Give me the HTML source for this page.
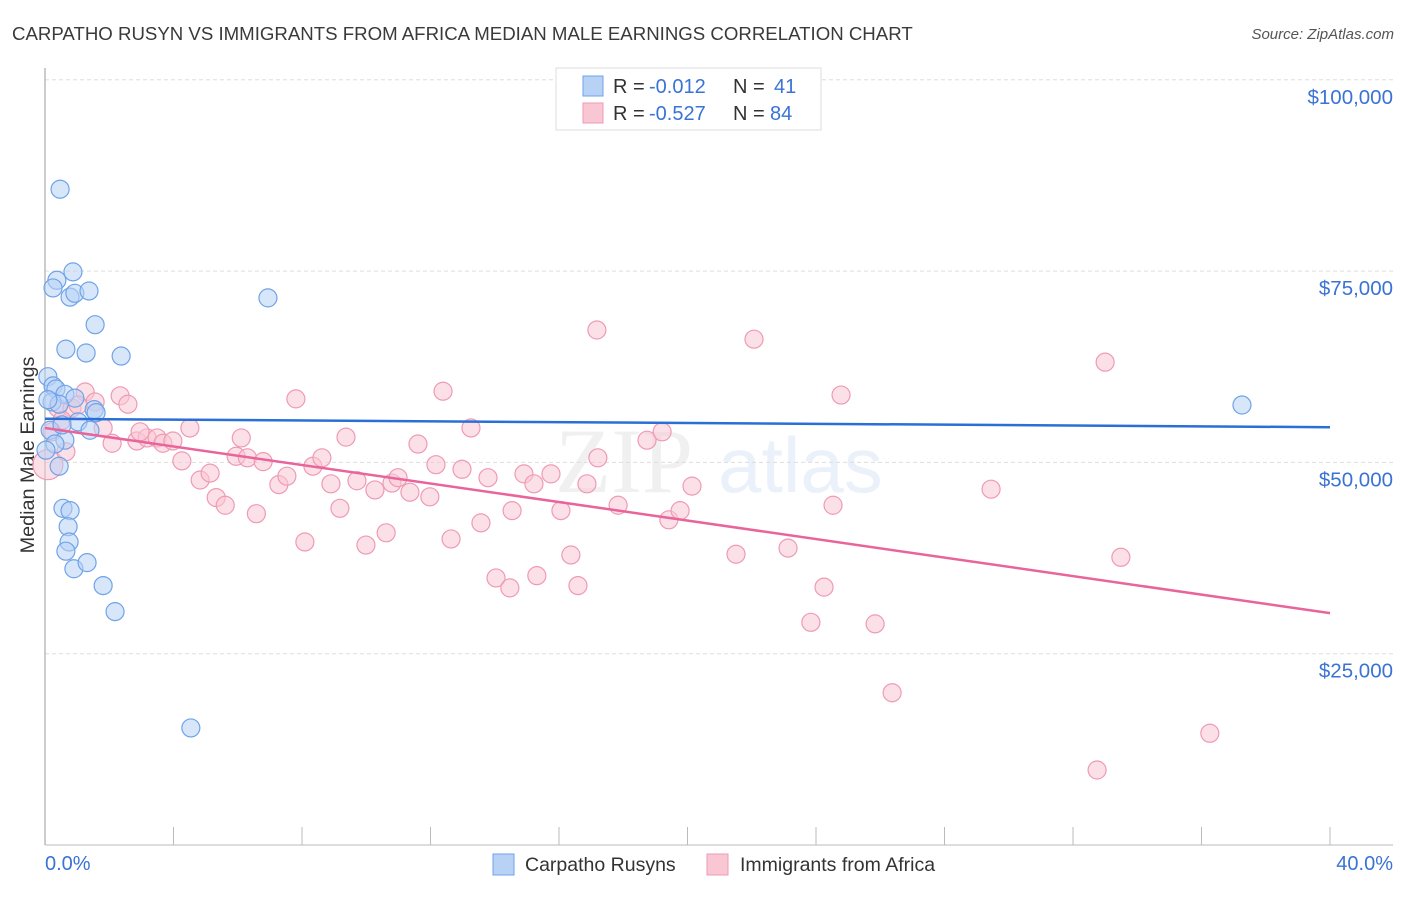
<!DOCTYPE html>
<html><head><meta charset="utf-8"><style>
body{margin:0;background:#fff;font-family:"Liberation Sans",sans-serif;}
</style></head><body>
<svg width="1406" height="892" xmlns="http://www.w3.org/2000/svg" font-family="Liberation Sans, sans-serif">
<text x="12" y="40" font-size="18.65" fill="#3a3a3a">CARPATHO RUSYN VS IMMIGRANTS FROM AFRICA MEDIAN MALE EARNINGS CORRELATION CHART</text>
<text x="1394" y="39" font-size="15" fill="#555" text-anchor="end" font-style="italic">Source: ZipAtlas.com</text>
<g opacity="0.12">
<text x="555" y="492" font-size="92" font-family="Liberation Serif, serif" fill="#888">ZIP</text>
<text x="718" y="492" font-size="78" fill="#5b8fd8">atlas</text>
</g>
<g id="grid"></g>
<line x1="45" y1="68" x2="45" y2="845" stroke="#bbb" stroke-width="1.5"/>
<line x1="45" y1="845" x2="1393" y2="845" stroke="#bbb" stroke-width="1"/>
<g id="xticks"></g>
<text transform="translate(34,455) rotate(-90)" font-size="19.8" fill="#333" text-anchor="middle">Median Male Earnings</text>
<text x="45" y="870" font-size="20" fill="#3a73d6">0.0%</text>
<text x="1393" y="870" font-size="20" fill="#3a73d6" text-anchor="end">40.0%</text>
<g id="pts"></g>
<g id="lines"></g>
<g>
<rect x="556" y="68" width="265" height="62" fill="#fff" stroke="#ddd"/>
<rect x="583" y="76" width="20" height="20" fill="#b8d2f6" stroke="#6fa3e8"/>
<rect x="583" y="103" width="20" height="20" fill="#f9c6d4" stroke="#ef9ab5"/>
<text x="613" y="93" font-size="20" fill="#333">R =</text>
<text x="649" y="93" font-size="20" fill="#3a73d6">-0.012</text>
<text x="733" y="93" font-size="20" fill="#333">N =</text>
<text x="774" y="93" font-size="20" fill="#3a73d6">41</text>
<text x="613" y="120" font-size="20" fill="#333">R =</text>
<text x="649" y="120" font-size="20" fill="#3a73d6">-0.527</text>
<text x="733" y="120" font-size="20" fill="#333">N =</text>
<text x="770" y="120" font-size="20" fill="#3a73d6">84</text>
</g>
<g>
<rect x="493" y="854" width="21" height="21" fill="#b8d2f6" stroke="#6fa3e8"/>
<text x="525" y="871" font-size="19.5" fill="#333">Carpatho Rusyns</text>
</g>
<g>
<rect x="707" y="854" width="21" height="21" fill="#f9c6d4" stroke="#ef9ab5"/>
<text x="740" y="871" font-size="19.5" fill="#333">Immigrants from Africa</text>
</g>
</svg>
<script>
const yTicks=[25000,50000,75000,100000];
const yTickLabels=["$25,000","$50,000","$75,000","$100,000"];
const blueX=[0.47,0.37,0.87,0.25,0.78,0.93,1.37,6.94,1.56,0.65,1.28,2.37,0.09,0.25,0.34,0.62,0.93,0.22,0.44,1.53,1.59,1.03,1.40,0.16,0.62,0.31,0.44,0.56,0.78,0.72,0.75,0.65,0.90,1.31,1.81,2.18,4.54,37.26,0.09,0.03,0.53];
const blueY=[85.7,73.8,74.9,72.8,71.6,72.1,72.4,71.5,68.0,64.8,64.3,63.9,61.2,60.0,59.6,58.9,58.4,57.9,57.6,56.9,56.5,55.3,54.2,54.2,52.9,52.4,49.5,44.0,43.7,41.6,39.6,38.4,36.1,36.9,33.9,30.5,15.3,57.5,58.2,51.6,54.9];
const pinkX=[0.09,0.40,0.84,1.25,1.56,1.81,2.34,2.58,2.09,2.86,3.18,3.49,3.67,3.98,4.26,4.51,4.83,5.14,5.33,5.61,6.11,5.95,6.30,6.58,6.79,7.28,7.53,7.81,8.09,8.34,8.62,8.90,9.18,9.37,9.71,9.99,10.27,10.62,10.80,10.99,11.36,11.61,11.98,12.17,12.39,12.64,12.98,13.26,13.57,13.79,14.04,14.47,14.54,14.91,15.22,15.31,15.75,16.06,16.37,16.59,16.87,17.21,17.18,17.84,18.74,19.21,19.42,19.77,20.14,21.51,22.07,23.13,23.84,24.25,24.53,24.78,25.84,26.37,29.45,32.75,33.0,33.49,36.26,0.22,0.53,1.03,2.96,0.65];
const pinkY=[49.7,57.1,57.1,59.2,57.9,54.5,58.7,57.6,52.5,52.8,53.2,53.2,52.5,52.8,50.2,54.5,47.7,48.6,45.4,44.4,53.2,50.8,50.6,43.3,50.1,47.1,48.2,58.3,39.6,49.5,50.6,47.2,44.0,53.3,47.6,39.2,46.4,40.8,47.3,48.0,46.1,52.4,45.5,49.7,59.3,40.0,49.1,54.5,42.1,48.0,34.9,33.6,43.7,48.5,47.2,35.2,48.5,43.7,37.9,33.9,47.2,50.6,67.3,44.4,52.9,54.0,42.5,43.7,46.9,38.0,66.1,38.8,29.1,33.7,44.4,58.8,28.9,19.9,46.5,9.8,63.1,37.6,14.6,54.0,55.5,57.5,54.0,51.4];
const blueTrend=[55.7,54.6];
const pinkTrend=[54.5,30.3];
const xr=[0,40];
const NS="http://www.w3.org/2000/svg";
const xs=p=>45+(p-xr[0])/(xr[1]-xr[0])*1285;
const ys=v=>845-v/25000*191.3;
function mk(t,a,parent){const e=document.createElementNS(NS,t);for(const k in a)e.setAttribute(k,a[k]);parent.appendChild(e);return e;}
const grid=document.getElementById('grid');
yTicks.forEach((v,i)=>{
 const l=mk('line',{x1:45,x2:1393,y1:ys(v),y2:ys(v),stroke:'#ddd','stroke-dasharray':'4,3'},grid);
 
 
 const t=mk('text',{x:1393,y:ys(v)+24,'font-size':20.5,fill:'#3a73d6','text-anchor':'end'},grid);
 t.textContent=yTickLabels[i];
 
 
});
const xt=document.getElementById('xticks');
for(let p=0;p<=40;p+=4){const l=mk('line',{x1:xs(p),x2:xs(p),y1:827,y2:845,stroke:'#bbb'},xt);
 
 }
const pts=document.getElementById('pts');
pinkX.forEach((x,i)=>{const c=mk('circle',{cx:xs(x),cy:ys(pinkY[i]*1000),r:i===0?15:9,fill:'#f9c6d4','fill-opacity':0.55,stroke:'#ef9ab5','stroke-width':1.2},pts);
 
 });
blueX.forEach((x,i)=>{const c=mk('circle',{cx:xs(x),cy:ys(blueY[i]*1000),r:9,fill:'#b8d2f6','fill-opacity':0.55,stroke:'#6fa3e8','stroke-width':1.2},pts);
 
 });
const lg=document.getElementById('lines');
const bl=mk('line',{x1:xs(0),x2:xs(40),y1:ys(blueTrend[0]*1000),y2:ys(blueTrend[1]*1000),stroke:'#2a6fd6','stroke-width':2.5},lg);


const pl=mk('line',{x1:xs(0),x2:xs(40),y1:ys(pinkTrend[0]*1000),y2:ys(pinkTrend[1]*1000),stroke:'#e8649a','stroke-width':2.5},lg);


</script>
</body></html>
